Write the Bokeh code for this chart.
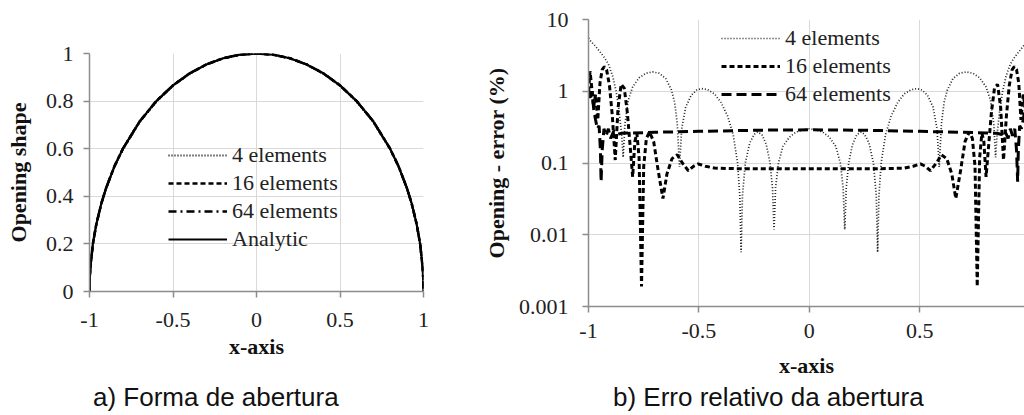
from bokeh.plotting import figure
from bokeh.models import (Range1d, FixedTicker, CustomJSTickFormatter, Legend,
                          LegendItem, Div)
from bokeh.layouts import row, column
from bokeh.embed import file_html
from bokeh.resources import INLINE

SERIF = "Liberation Serif"
SANS = "Liberation Sans"
GRID = "#d9d9d9"
AXIS = "#8c8c8c"

# ---------------- data: panel a (opening shape) ----------------
shape_x = [-1.0, -0.999, -0.995, -0.98, -0.96, -0.93, -0.9, -0.85, -0.8, -0.7, -0.6, -0.5,
           -0.4, -0.3, -0.2, -0.1, 0.0, 0.1, 0.2, 0.3, 0.4, 0.5, 0.6, 0.7, 0.8, 0.85,
           0.9, 0.93, 0.96, 0.98, 0.995, 0.999, 1.0]
shape_4 = [0.0, 0.044, 0.099, 0.197, 0.278, 0.366, 0.434, 0.524, 0.597, 0.711, 0.797, 0.864,
           0.915, 0.953, 0.979, 0.995, 1.0, 0.995, 0.979, 0.953, 0.915, 0.864, 0.797, 0.711,
           0.597, 0.524, 0.434, 0.366, 0.278, 0.197, 0.099, 0.044, 0.0]
shape_16 = [0.0, 0.045, 0.1, 0.199, 0.28, 0.367, 0.436, 0.527, 0.6, 0.714, 0.8, 0.866,
            0.916, 0.954, 0.98, 0.995, 1.0, 0.995, 0.98, 0.954, 0.916, 0.866, 0.8, 0.714,
            0.6, 0.527, 0.436, 0.367, 0.28, 0.199, 0.1, 0.045, 0.0]
shape_64 = [0.0, 0.045, 0.1, 0.199, 0.28, 0.368, 0.436, 0.527, 0.6, 0.714, 0.8, 0.866,
            0.917, 0.954, 0.98, 0.995, 1.0, 0.995, 0.98, 0.954, 0.917, 0.866, 0.8, 0.714,
            0.6, 0.527, 0.436, 0.368, 0.28, 0.199, 0.1, 0.045, 0.0]
shape_analytic = [0.0, 0.045, 0.1, 0.199, 0.28, 0.368, 0.436, 0.527, 0.6, 0.714, 0.8, 0.866,
                  0.917, 0.954, 0.98, 0.995, 1.0, 0.995, 0.98, 0.954, 0.917, 0.866, 0.8, 0.714,
                  0.6, 0.527, 0.436, 0.368, 0.28, 0.199, 0.1, 0.045, 0.0]

# ---------------- data: panel b (relative error, %) ----------------
err4_x = [-1.0, -0.99, -0.97, -0.95, -0.93, -0.91, -0.89, -0.875, -0.862, -0.85, -0.843,
          -0.835, -0.82, -0.80, -0.77, -0.74, -0.71, -0.68, -0.65, -0.625, -0.61, -0.598, -0.588,
          -0.578, -0.56, -0.535, -0.51, -0.488, -0.46, -0.43, -0.40, -0.37, -0.345, -0.325, -0.315, -0.309,
          -0.303, -0.29, -0.27, -0.25, -0.235, -0.215, -0.195, -0.178, -0.167, -0.160,
          -0.153, -0.14, -0.12, -0.09, -0.06, -0.03, 0.0,
          0.03, 0.06, 0.09, 0.12, 0.14, 0.153,
          0.160, 0.167, 0.178, 0.195, 0.215, 0.235, 0.25, 0.27, 0.29, 0.303,
          0.309, 0.315, 0.325, 0.345, 0.37, 0.40, 0.43, 0.46, 0.488, 0.51, 0.535, 0.56, 0.578,
          0.588, 0.598, 0.61, 0.625, 0.65, 0.68, 0.71, 0.74, 0.77, 0.80, 0.82, 0.835,
          0.843, 0.85, 0.862, 0.875, 0.89, 0.91, 0.93, 0.95, 0.97, 0.99, 1.0]
err4 = [5.5, 5.0, 4.3, 3.6, 3.0, 2.4, 1.6, 1.0, 0.55, 0.25, 0.12,
        0.35, 0.75, 1.15, 1.55, 1.78, 1.86, 1.78, 1.5, 1.05, 0.7, 0.35, 0.088,
        0.3, 0.6, 0.88, 1.04, 1.09, 1.05, 0.92, 0.7, 0.45, 0.25, 0.1, 0.035, 0.0057,
        0.035, 0.1, 0.19, 0.25, 0.27, 0.25, 0.18, 0.1, 0.045, 0.0118,
        0.045, 0.1, 0.17, 0.23, 0.27, 0.29, 0.30,
        0.29, 0.27, 0.23, 0.17, 0.1, 0.045,
        0.0118, 0.045, 0.1, 0.18, 0.25, 0.27, 0.25, 0.19, 0.1, 0.035,
        0.0057, 0.035, 0.1, 0.25, 0.45, 0.7, 0.92, 1.05, 1.09, 1.04, 0.88, 0.6, 0.3,
        0.088, 0.35, 0.7, 1.05, 1.5, 1.78, 1.86, 1.78, 1.55, 1.15, 0.75, 0.35,
        0.12, 0.25, 0.55, 1.0, 1.6, 2.4, 3.0, 3.6, 4.3, 5.0, 5.5]

err16_x = [-1.0, -0.993, -0.985, -0.977, -0.968, -0.958, -0.948, -0.938, -0.928, -0.918,
           -0.905, -0.892, -0.879, -0.866, -0.852, -0.838, -0.824, -0.812, -0.800, -0.790,
           -0.781, -0.771, -0.760, -0.750, -0.738, -0.724, -0.705, -0.685, -0.663, -0.645,
           -0.622, -0.598, -0.575, -0.548, -0.525, -0.503, -0.47, -0.43, -0.38, -0.3,
           -0.2, -0.1, 0.0,
           0.1, 0.2, 0.3, 0.38, 0.43, 0.47, 0.503, 0.525, 0.548, 0.575,
           0.598, 0.622, 0.645, 0.663, 0.685, 0.705, 0.724, 0.738, 0.750, 0.760,
           0.771, 0.781, 0.790, 0.800, 0.812, 0.824, 0.838, 0.852, 0.866, 0.879,
           0.892, 0.905, 0.918, 0.928, 0.938, 0.948, 0.958, 0.968, 0.977, 0.985,
           0.993, 1.0]
err16 = [1.0, 1.9, 1.1, 0.6, 0.9, 0.4, 1.3, 2.0, 2.2, 2.0,
         1.2, 0.45, 0.11, 0.6, 1.25, 1.1, 0.5, 0.18, 0.064, 0.2,
         0.26, 0.12, 0.0019, 0.09, 0.22, 0.27, 0.2, 0.08, 0.032, 0.07,
         0.115, 0.13, 0.1, 0.078, 0.09, 0.097, 0.09, 0.085, 0.084, 0.083,
         0.083, 0.083, 0.083,
         0.083, 0.083, 0.083, 0.084, 0.085, 0.09, 0.097, 0.09, 0.078, 0.1,
         0.13, 0.115, 0.07, 0.032, 0.08, 0.2, 0.27, 0.22, 0.09, 0.0019,
         0.12, 0.26, 0.2, 0.064, 0.18, 0.5, 1.1, 1.25, 0.6, 0.11,
         0.45, 1.2, 2.0, 2.2, 2.0, 1.3, 0.4, 0.9, 0.6, 1.1,
         1.9, 1.0]

err64_x = [-1.0, -0.992, -0.984, -0.976, -0.968, -0.96, -0.952, -0.946, -0.943, -0.938,
           -0.93, -0.92, -0.91, -0.9, -0.885, -0.87, -0.85, -0.8, -0.7, -0.6,
           -0.5, -0.4, -0.3, -0.2, -0.1, 0.0,
           0.1, 0.2, 0.3, 0.4, 0.5, 0.6, 0.7, 0.8, 0.85, 0.87,
           0.885, 0.9, 0.91, 0.92, 0.93, 0.938, 0.943, 0.946, 0.952, 0.96,
           0.968, 0.976, 0.984, 0.992, 1.0]
err64 = [1.1, 0.75, 1.0, 0.55, 0.4, 0.3, 0.33, 0.15, 0.055, 0.15,
         0.3, 0.24, 0.3, 0.22, 0.28, 0.25, 0.26, 0.262, 0.268, 0.272,
         0.276, 0.28, 0.284, 0.287, 0.289, 0.29,
         0.289, 0.287, 0.284, 0.28, 0.276, 0.272, 0.268, 0.262, 0.26, 0.25,
         0.28, 0.22, 0.3, 0.24, 0.3, 0.15, 0.055, 0.15, 0.33, 0.3,
         0.4, 0.55, 1.0, 0.75, 1.1]

x_ticks = [-1, -0.5, 0, 0.5, 1]
shape_ticks = [0, 0.2, 0.4, 0.6, 0.8, 1]
err_ticks = [0.001, 0.01, 0.1, 1, 10]
series_labels = ["4 elements", "16 elements", "64 elements", "Analytic"]
captions = ["a) Forma de abertura", "b) Erro relativo da abertura"]


def style(p, xticks, yticks):
    p.outline_line_color = None
    p.background_fill_color = "white"
    p.border_fill_color = "white"
    p.frame_align = False
    for ax in (p.xaxis[0], p.yaxis[0]):
        ax.axis_line_color = AXIS
        ax.axis_line_width = 1.5
        ax.major_tick_line_color = AXIS
        ax.major_tick_line_width = 1.5
        ax.major_tick_out = 6
        ax.major_tick_in = 0
        ax.minor_tick_line_color = None
        ax.major_label_text_font = SERIF
        ax.major_label_text_font_size = "22px"
        ax.major_label_text_color = "#222222"
        ax.axis_label_text_font = SERIF
        ax.axis_label_text_font_style = "bold"
        ax.axis_label_text_font_size = "22px"
        ax.axis_label_text_color = "#111111"
        ax.formatter = CustomJSTickFormatter(code="return tick.toString();")
    p.xaxis[0].ticker = FixedTicker(ticks=xticks)
    p.yaxis[0].ticker = FixedTicker(ticks=yticks)
    p.xgrid[0].ticker = FixedTicker(ticks=xticks)
    p.ygrid[0].ticker = FixedTicker(ticks=yticks)
    for g in (p.xgrid[0], p.ygrid[0]):
        g.grid_line_color = GRID
        g.grid_line_width = 1


def make_legend(items, loc):
    lg = Legend(items=items, location=loc)
    lg.border_line_color = None
    lg.background_fill_alpha = 0
    lg.padding = 0
    lg.margin = 0
    lg.spacing = 2
    lg.glyph_width = 59
    lg.glyph_height = 20
    lg.label_height = 20
    lg.label_standoff = 5
    lg.label_text_font = SERIF
    lg.label_text_font_size = "22px"
    lg.label_text_color = "#222222"
    return lg


def caption(text, width, indent):
    return Div(text=text, width=width, height=30, margin=(0, 0, 0, 0),
               styles={"font-family": "'Liberation Sans', Arial, sans-serif",
                       "font-size": "26px", "line-height": "26px",
                       "color": "#111111", "text-indent": "%dpx" % indent,
                       "white-space": "nowrap"})


FIG_H = 384

# ---------------- panel a ----------------
p1 = figure(width=480, height=FIG_H, output_backend="svg", toolbar_location=None,
            x_range=Range1d(-1, 1), y_range=Range1d(0, 1),
            min_border_left=89, min_border_right=57, min_border_top=53,
            min_border_bottom=FIG_H - 291)
style(p1, x_ticks, shape_ticks)
p1.xaxis[0].axis_label = "x-axis"
p1.yaxis[0].axis_label = "Opening shape"
p1.xaxis[0].major_label_standoff = 15
p1.xaxis[0].axis_label_standoff = 4
p1.yaxis[0].major_label_standoff = 10
p1.yaxis[0].axis_label_standoff = 12

ra = p1.line(shape_x, shape_4, line_color="black", line_width=2, line_dash="1 2")
rb = p1.line(shape_x, shape_16, line_color="black", line_width=2.5, line_dash="5 3")
rc = p1.line(shape_x, shape_64, line_color="black", line_width=2.5, line_dash="8 4 2 4")
rd = p1.line(shape_x, shape_analytic, line_color="black", line_width=2.2)
p1.add_layout(make_legend([LegendItem(label=series_labels[0], renderers=[ra]),
                           LegendItem(label=series_labels[1], renderers=[rb]),
                           LegendItem(label=series_labels[2], renderers=[rc]),
                           LegendItem(label=series_labels[3], renderers=[rd])], (79, 39)))

# ---------------- panel b ----------------
p2 = figure(width=544, height=FIG_H, output_backend="svg", toolbar_location=None,
            x_range=Range1d(-1, 0.974), y_range=Range1d(0.001, 10), y_axis_type="log",
            min_border_left=103, min_border_right=0, min_border_top=19,
            min_border_bottom=FIG_H - 306)
style(p2, x_ticks, err_ticks)
p2.xaxis[0].axis_label = "x-axis"
p2.yaxis[0].axis_label = "Opening - error (%)"
p2.xaxis[0].major_label_standoff = 11
p2.xaxis[0].axis_label_standoff = 12
p2.yaxis[0].major_label_standoff = 14
p2.yaxis[0].axis_label_standoff = 7

r4 = p2.line(err4_x, err4, line_color="#222222", line_width=1.7, line_dash="1 2")
r16 = p2.line(err16_x, err16, line_color="black", line_width=3, line_dash="5 3")
r64 = p2.line(err64_x, err64, line_color="black", line_width=3, line_dash="10 5")
p2.add_layout(make_legend([LegendItem(label=series_labels[0], renderers=[r4]),
                           LegendItem(label=series_labels[1], renderers=[r16]),
                           LegendItem(label=series_labels[2], renderers=[r64])], (133, 199)))

layout = row(column(p1, caption(captions[0], 480, 93)),
             column(p2, caption(captions[1], 544, 133)))
open("out.html", "w").write(file_html(layout, INLINE))
